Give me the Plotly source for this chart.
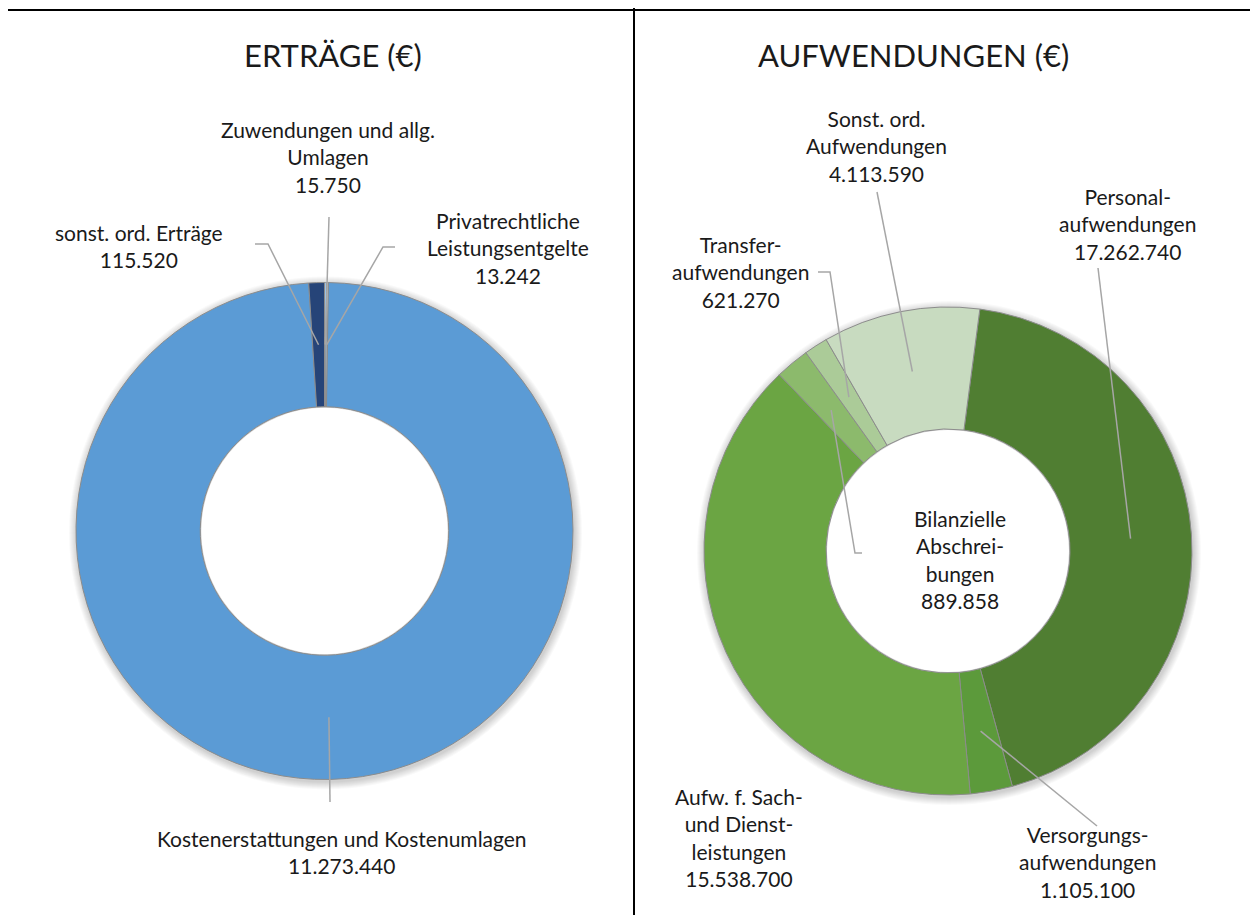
import math
import plotly.graph_objects as go

# page size and body margin of the generated html page
PAGE_W, PAGE_H = 1258, 915
OFF = 8
W, H = PAGE_W - OFF, PAGE_H - OFF

# ---------------- data ----------------
ertraege_names = ["Zuwendungen und allg.<br>Umlagen", "Privatrechtliche<br>Leistungsentgelte",
                  "Kostenerstattungen und Kostenumlagen", "sonst. ord. Erträge"]
ertraege_values = [15750, 13242, 11273440, 115520]
ertraege_colors = ["#9DC3E6", "#BDD7EE", "#5B9BD5", "#264478"]

aufw_names = ["Personal-<br>aufwendungen", "Versorgungs-<br>aufwendungen",
              "Aufw. f. Sach-<br>und Dienst-<br>leistungen", "Bilanzielle<br>Abschrei-<br>bungen",
              "Transfer-<br>aufwendungen", "Sonst. ord.<br>Aufwendungen"]
aufw_values = [17262740, 1105100, 15538700, 889858, 621270, 4113590]
aufw_colors = ["#507E32", "#5C9A3B", "#6BA543", "#8CBA6C", "#ABCB98", "#C8DBC0"]

titles = ["ERTRÄGE (€)", "AUFWENDUNGEN (€)"]

# ---------------- layout constants (page pixels) ----------------
HOLE = 0.5
left_geo = dict(cx=324.5, cy=531.0, r=248.5, rot=0.0)
right_geo = dict(cx=948.0, cy=551.0, r=244.0, rot=7.5)

left_label_pos = [(328, 157), (508, 248), (342, 852), (139, 246)]
left_leaders = [[(329, 217)], [(395, 247), (383, 247)], [(330, 802)], [(255, 244), (268, 244)]]
right_label_pos = [(1127, 224), (1087, 862), (739, 837), (960, 559), (740, 272), (876, 146)]
right_leaders = [[(1098, 268)], [(1097, 826)], None, [(862, 553), (855, 553)],
                 [(818, 272), (830, 272)], [(877, 192)]]
title_pos = [(333, 55), (913, 55)]

FONT = "Lato, 'Open Sans', sans-serif"
TXT = "#1a1a1a"
LEADER = "#A6A6A6"


def fx(x):
    return (x - OFF) / W


def fy(y):
    return 1 - (y - OFF) / H


def de_num(v):
    return f"{v:,}".replace(",", ".")


def domain(g):
    return dict(x=[fx(g["cx"] - g["r"]), fx(g["cx"] + g["r"])],
                y=[fy(g["cy"] + g["r"]), fy(g["cy"] - g["r"])])


def anchors(values, g):
    total = sum(values)
    rm = g["r"] * (1 + HOLE) / 2
    out, cum = [], 0
    for v in values:
        a = math.radians(g["rot"] + 360 * (cum + v / 2) / total)
        out.append((g["cx"] + rm * math.sin(a), g["cy"] - rm * math.cos(a)))
        cum += v
    return out


def circle(cx, cy, rr, fill):
    return dict(type="circle", xref="paper", yref="paper", layer="below",
                x0=fx(cx - rr), x1=fx(cx + rr), y0=fy(cy + rr), y1=fy(cy - rr),
                fillcolor=fill, line=dict(width=0))


fig = go.Figure()
for names, values, colors, g in [(ertraege_names, ertraege_values, ertraege_colors, left_geo),
                                  (aufw_names, aufw_values, aufw_colors, right_geo)]:
    fig.add_trace(go.Pie(
        labels=[n.replace("<br>", " ") for n in names], values=values, hole=HOLE, sort=False,
        direction="clockwise", rotation=g["rot"], textinfo="none", hoverinfo="label+value",
        marker=dict(colors=colors, line=dict(color="#8C8C8C", width=1)),
        domain=domain(g), showlegend=False))

shapes, annotations = [], []

# soft shadow behind donuts (white circle keeps the hole clean)
for g in (left_geo, right_geo):
    for k in range(8, 0, -1):
        shapes.append(circle(g["cx"] + 1, g["cy"] + 2, g["r"] + k, "rgba(0,0,0,0.022)"))
    shapes.append(circle(g["cx"], g["cy"], g["r"] * HOLE - 1, "white"))

# labels and leader lines
for names, values, g, lpos, leaders in [(ertraege_names, ertraege_values, left_geo, left_label_pos, left_leaders),
                                        (aufw_names, aufw_values, right_geo, right_label_pos, right_leaders)]:
    anc = anchors(values, g)
    for name, v, (lx, ly), lead, a in zip(names, values, lpos, leaders, anc):
        annotations.append(dict(text=f"{name}<br>{de_num(v)}", x=fx(lx), y=fy(ly), xref="paper", yref="paper",
                                xanchor="center", yanchor="middle", showarrow=False, align="center",
                                font=dict(family=FONT, size=21, color=TXT)))
        if lead:
            pts = lead + [a]
            path = "M " + " L ".join(f"{fx(px_):.6f},{fy(py_):.6f}" for px_, py_ in pts)
            shapes.append(dict(type="path", xref="paper", yref="paper", path=path,
                               line=dict(color=LEADER, width=1.5)))

# titles
for t, (tx, ty) in zip(titles, title_pos):
    annotations.append(dict(text=t, x=fx(tx), y=fy(ty), xref="paper", yref="paper", xanchor="center",
                            yanchor="middle", showarrow=False, font=dict(family=FONT, size=31, color=TXT)))

# table borders
for (x0, y0, x1, y1) in [(6, 10, 1253, 10), (6, 10, 6, 915), (634, 4, 634, 915), (1253, 10, 1253, 915)]:
    shapes.append(dict(type="line", xref="paper", yref="paper", x0=fx(x0), y0=fy(y0), x1=fx(x1), y1=fy(y1),
                       line=dict(color="black", width=2)))

fig.update_layout(width=W, height=H, margin=dict(l=0, r=0, t=0, b=0), paper_bgcolor="white",
                  plot_bgcolor="white", shapes=shapes, annotations=annotations)
fig.write_html("out.html")
